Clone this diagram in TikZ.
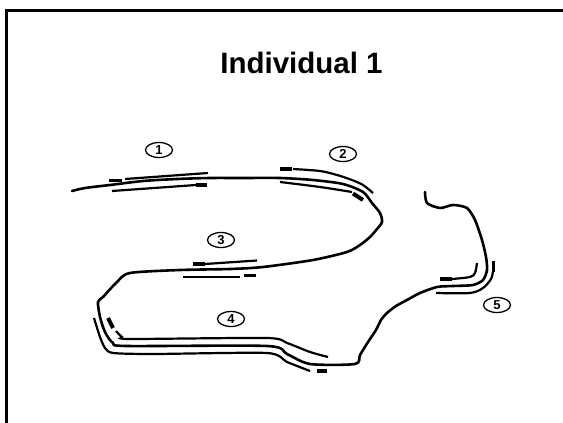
\documentclass[tikz,border=0pt]{standalone}
\usepackage{fontspec}
\setmainfont{Liberation Sans}
\usetikzlibrary{shapes.geometric}
\tikzset{
  strand/.style={line width=2.6pt,line cap=round,line join=round},
  readline/.style={line width=2.2pt,line cap=butt},
  tagbox/.style={fill=black,draw=none},
  tagdash/.style={line width=4pt,line cap=butt},
  numlabel/.style={ellipse,draw,line width=1.3pt,minimum width=27pt,minimum height=15pt,inner sep=0pt,font=\fontsize{13}{13}\selectfont\bfseries},
  frameline/.style={line width=3pt}
}
\begin{document}
\begin{tikzpicture}[x=1pt,y=-1pt]
\useasboundingbox (0,0) rectangle (563,423);
% frame
\draw[frameline] (6,423) -- (6,10) -- (563,10);
% title
\node[anchor=base,font=\fontsize{29.5}{30}\selectfont\bfseries] (title) at (301.5,73) {Individual 1};
% main strand
\draw[strand] plot[smooth,tension=0.45] coordinates {
(72,191) (85,188) (110,185) (143,181) (177,179) (210,178) (243,178) (280,178) (313,180) (343,184) (363,192) (372,203) (380,213) (382,222) (377,229) (370,237) (360,245) (347,252) (313,260) (263,267) (230,269) (180,270) (130,273) (117,282) (103,297) (98,302) (100,317) (105,332) (113,343) (127,346) (267,346) (287,354) (310,364) (355,364) (360,355) (368,342) (376,330) (381,320) (387,313) (396,306) (407,300) (420,293) (437,287) (453,286) (473,285) (483,280) (487,270) (486,257) (482,240) (475,220) (467,208) (453,205) (440,208) (427,203) (425,192)};
% group 1
\fill[tagbox] (109,178.5) rectangle (122,182);
\draw[readline] (125,179) -- (208,173);
\draw[readline] (112,191) -- (196,185);
\fill[tagbox] (196,182.5) rectangle (207,186.5);
% group 2
\fill[tagbox] (280,167) rectangle (292,171);
\draw[readline] plot[smooth] coordinates {(293,169) (320,171) (337,175) (352,180) (363,185) (373,193)};
\draw[readline] plot[smooth] coordinates {(280,182) (320,187) (352,192)};
\draw[tagdash] (353,193.5) -- (363,200);
% group 3
\fill[tagbox] (193,262) rectangle (205,266);
\draw[readline] (205,264) -- (257,260.5);
\draw[readline] (183,277) -- (240,277);
\fill[tagbox] (244,273.5) rectangle (256,277);
% group 4
\draw[tagdash] (108,318) -- (113,328);
\draw[readline] plot[smooth,tension=0.4] coordinates {(116,331) (122,337) (130,339) (267,338) (287,343) (310,352) (328,357)};
\draw[readline] plot[smooth,tension=0.4] coordinates {(94,318) (100,337) (105,348) (113,353) (153,354) (267,353) (287,362) (310,371)};
\fill[tagbox] (317,369) rectangle (327,373);
% group 5
\fill[tagbox] (440,277) rectangle (452,281);
\draw[readline] plot[smooth,tension=0.5] coordinates {(452,279) (470,277) (475,273) (477,263)};
\draw[readline] plot[smooth,tension=0.5] coordinates {(436,293) (470,293) (483,288) (491,279) (493,271)};
\fill[tagbox] (491.5,261) rectangle (495,272);
% labels
\node[numlabel] (l1) at (159,150) {1};
\node[numlabel] (l2) at (343,154) {2};
\node[numlabel] (l3) at (221,240) {3};
\node[numlabel] (l4) at (231,319) {4};
\node[numlabel] (l5) at (497,305) {5};
\end{tikzpicture}
\end{document}
